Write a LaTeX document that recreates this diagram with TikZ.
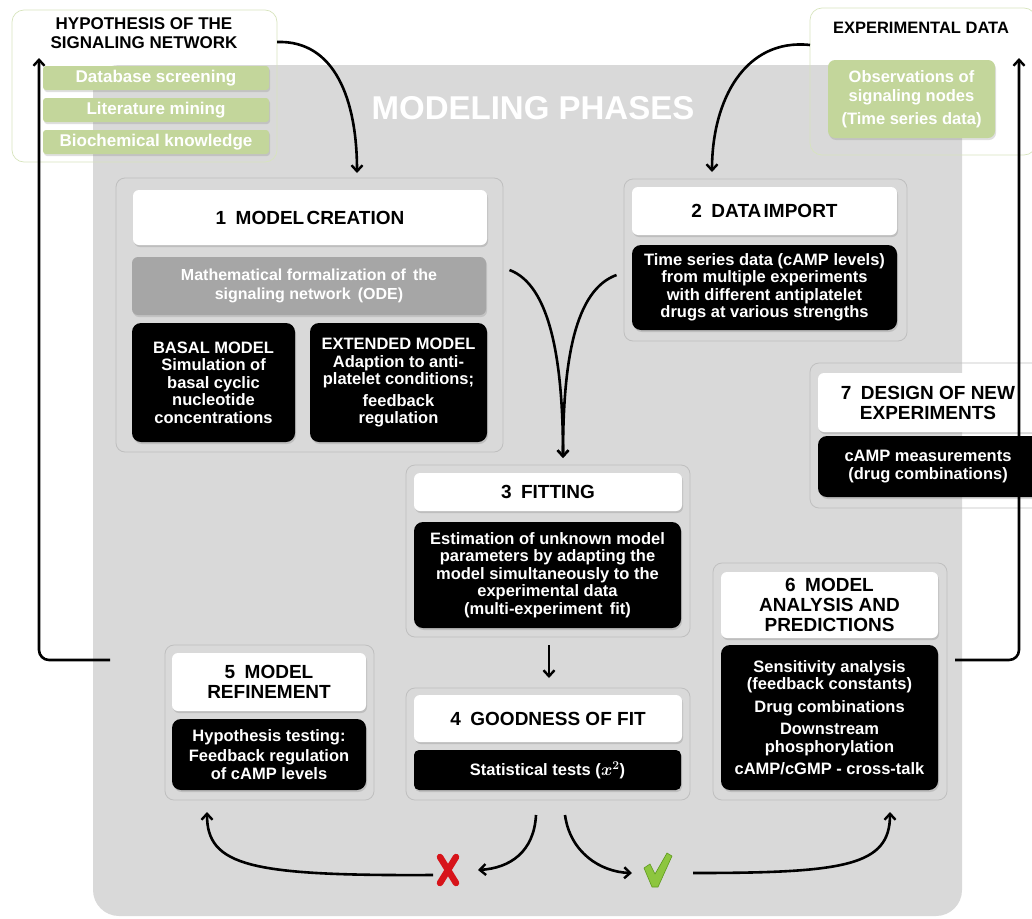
\documentclass[tikz,border=0pt]{standalone}
\usepackage{fontspec}
\usepackage{amsmath}
\setmainfont{Liberation Sans}
\usetikzlibrary{arrows.meta,shadows,calc}
\definecolor{bggray}{HTML}{D9D9D9}
\definecolor{greenbox}{HTML}{C3D69B}
\definecolor{greenline}{HTML}{D7E4BD}
\definecolor{formgray}{HTML}{A6A6A6}
\definecolor{xred}{HTML}{D7141A}
\definecolor{okgreen}{HTML}{8DC63F}
\definecolor{okdark}{HTML}{5E9A1E}
\begin{document}
\begin{tikzpicture}[x=1pt,y=1pt,
  every node/.style={inner sep=0pt,outer sep=0pt,align=center},
  panel/.style={draw=black!25,line width=0.8pt,rounded corners=9pt},
  outerbox/.style={draw=greenline,line width=0.7pt,rounded corners=12pt},
  titlebox/.style={fill=white,rounded corners=6pt,font=\fontsize{19}{20}\selectfont\bfseries,
    drop shadow={shadow xshift=1pt,shadow yshift=-2pt,opacity=.3}},
  blackbox/.style={fill=black,text=white,rounded corners=9pt,font=\fontsize{16.5}{17.5}\selectfont\bfseries,
    drop shadow={shadow xshift=1pt,shadow yshift=-2pt,opacity=.3}},
  greenitem/.style={fill=greenbox,text=white,rounded corners=3pt,font=\fontsize{17}{19}\selectfont\bfseries,
    drop shadow={shadow xshift=1pt,shadow yshift=-2pt,opacity=.25}},
  flow/.style={line width=2.6pt,-{Straight Barb[length=6pt,width=11pt,line width=2.4pt]}}
]
\useasboundingbox (0,0) rectangle (1032,-918);

% background
\node (bg) [fill=bggray,rounded corners=26pt,minimum width=869,minimum height=851] at (527.5,-490.5) {};
\node (phases) [text=white,font=\fontsize{33}{36}\selectfont\bfseries] at (533,-108) {MODELING PHASES};

% hypothesis
\node (hyp) [outerbox,minimum width=265,minimum height=152] at (144.5,-86) {};
\node (hyptitle) [font=\fontsize{17}{19}\selectfont\bfseries] at (144,-33) {HYPOTHESIS OF THE\\SIGNALING NETWORK};
\node (g1) [greenitem,minimum width=226,minimum height=24] at (156,-78) {Database screening};
\node (g2) [greenitem,minimum width=226,minimum height=24] at (156,-110) {Literature mining};
\node (g3) [greenitem,minimum width=226,minimum height=24] at (156,-142) {Biochemical knowledge};

% experimental data
\node (exp) [outerbox,minimum width=226,minimum height=147] at (923,-81.5) {};
\node (exptitle) [font=\fontsize{16.5}{19}\selectfont\bfseries] at (921,-28) {EXPERIMENTAL DATA};
\node (obs) [greenitem,rounded corners=7pt,minimum width=167,minimum height=78,font=\fontsize{16.5}{19}\selectfont\bfseries] at (911.5,-99) {Observations of\\signaling nodes\\[4pt](Time series data)};

% panel 1
\node (p1) [panel,minimum width=387,minimum height=274] at (309.5,-315) {};
\node (t1) [titlebox,minimum width=354,minimum height=55] at (310,-217.5) {1\enspace MODEL\hspace{0.12em}CREATION};
\node (form) [fill=formgray,text=white,rounded corners=6pt,minimum width=354,minimum height=58,
  font=\fontsize{16}{19}\selectfont\bfseries,drop shadow={shadow xshift=1pt,shadow yshift=-2pt,opacity=.25}]
  at (309,-286) {Mathematical formalization of\, the\\signaling network\, (ODE)};
\node (basal) [blackbox,minimum width=163,minimum height=119] at (213.5,-382.5)
  {BASAL MODEL\\Simulation of\\basal cyclic\\nucleotide\\concentrations};
\node (ext) [blackbox,minimum width=177,minimum height=119] at (398.5,-382.5)
  {EXTENDED MODEL\\Adaption to anti-\\platelet conditions;\\[4pt]feedback\\regulation};

% panel 2
\node (p2) [panel,minimum width=283,minimum height=162] at (765.5,-260) {};
\node (t2) [titlebox,minimum width=265,minimum height=48] at (764.5,-211) {2\enspace DATA\hspace{0.12em}IMPORT};
\node (b2) [blackbox,minimum width=265,minimum height=85] at (764.5,-287.5)
  {Time series data (cAMP levels)\\from multiple experiments\\with different antiplatelet\\drugs at various strengths};

% panel 7
\node (p7) [panel,minimum width=232,minimum height=145] at (926,-435.5) {};
\node (t7) [titlebox,minimum width=224,minimum height=59] at (930,-402.5) {};
\node (t7text) [font=\fontsize{19}{20}\selectfont\bfseries] at (928,-402.5) {7\enspace DESIGN OF NEW\\EXPERIMENTS};
\node (b7) [blackbox,minimum width=224,minimum height=61] at (930,-466.5) {};
\node (b7text) [text=white,font=\fontsize{16.5}{17.5}\selectfont\bfseries] at (928,-466.5) {cAMP measurements\\(drug combinations)};

% panel 3
\node (p3) [panel,minimum width=284,minimum height=172] at (548,-551) {};
\node (t3) [titlebox,minimum width=268,minimum height=38] at (548,-492) {3\enspace FITTING};
\node (b3) [blackbox,minimum width=267,minimum height=106] at (547.5,-575)
  {Estimation of unknown model\\parameters by adapting the\\model simultaneously to the\\experimental data\\(multi-experiment\, fit)};

% panel 4
\node (p4) [panel,minimum width=284,minimum height=112] at (548,-744) {};
\node (t4) [titlebox,minimum width=268,minimum height=47] at (548,-718.5) {4\enspace GOODNESS OF FIT};
\node (b4) [blackbox,rounded corners=5pt,minimum width=267,minimum height=40] at (547.5,-770)
  {Statistical tests ($\boldsymbol{x^{2}}$)};

% panel 5
\node (p5) [panel,minimum width=209,minimum height=155] at (269.5,-722.5) {};
\node (t5) [titlebox,minimum width=194,minimum height=58] at (269,-682) {5\enspace MODEL\\REFINEMENT};
\node (b5) [blackbox,minimum width=194,minimum height=71] at (269,-754.5)
  {Hypothesis testing:\\[3pt]Feedback regulation\\of cAMP levels};

% panel 6
\node (p6) [panel,minimum width=234,minimum height=237] at (830,-681.5) {};
\node (t6) [titlebox,minimum width=217,minimum height=66] at (829.5,-605) {6\enspace MODEL\\ANALYSIS AND\\PREDICTIONS};
\node (b6) [blackbox,minimum width=217,minimum height=145] at (829.5,-717.5)
  {Sensitivity analysis\\(feedback constants)\\[5pt]Drug combinations\\[5pt]Downstream\\phosphorylation\\[5pt]cAMP/cGMP - cross-talk};

% cross and check
\node (cross) [minimum width=24,minimum height=34] at (448,-870) {};
\draw[xred,line width=6.5pt,line cap=round] ([xshift=4pt,yshift=-4pt]cross.north west) -- ([xshift=-4pt,yshift=4pt]cross.south east);
\draw[xred,line width=6.5pt,line cap=round] ([xshift=-4pt,yshift=-4pt]cross.north east) -- ([xshift=4pt,yshift=4pt]cross.south west);
\node (check) [minimum width=28,minimum height=36] at (657,-870) {};
\filldraw[fill=okgreen,draw=okdark,line width=0.6pt,line join=round]
  ($(check.center)+(-13,2)$) -- ($(check.center)+(-7,6)$) -- ($(check.center)+(-2,-4)$)
  -- ($(check.center)+(10,17)$) -- ($(check.center)+(15,14)$) -- ($(check.center)+(1,-17)$)
  -- ($(check.center)+(-5,-17)$) -- cycle;

% connectors
\draw[flow] ([yshift=44pt]hyp.east) .. controls (335,-40) and (357,-100) .. ([xshift=47.5pt,yshift=5pt]p1.north);
\draw[flow] ([yshift=36.5pt]exp.west) .. controls (745,-38) and (712,-100) .. ([xshift=-53.5pt,yshift=7pt]p2.north);
\draw[flow] ([xshift=6.5pt,yshift=45pt]p1.east) .. controls (550,-285) and (563,-360) .. ([xshift=15pt,yshift=7pt]p3.north);
\draw[flow] ([xshift=-7.5pt,yshift=-15pt]p2.west) .. controls (575,-290) and (563,-360) .. ([xshift=15pt,yshift=7pt]p3.north);
\draw[flow] ([xshift=1pt,yshift=-8pt]p3.south) -- ([xshift=1pt,yshift=10pt]p4.north);
\draw[flow] ([xshift=-12pt,yshift=-15pt]p4.south) .. controls (534,-852) and (510,-868) .. ([xshift=18pt]cross.east);
\draw[flow] ([xshift=17pt,yshift=-15pt]p4.south) .. controls (570,-852) and (600,-872) .. ([xshift=-11pt,yshift=-3pt]check.west);
\draw[flow] ([xshift=-3pt,yshift=-5pt]cross.west) .. controls (250,-876) and (207,-866) .. ([xshift=-62.5pt,yshift=-12pt]p5.south);
\draw[flow] ([xshift=22pt,yshift=-3pt]check.east) .. controls (845,-873) and (890,-866) .. ([xshift=60pt,yshift=-12pt]p6.south);
\coordinate (c5) at (110,-660);
\coordinate (c6) at (955,-660);
\draw[flow,rounded corners=10pt] (c5) -- (39,-660) -- ([xshift=-105.5pt,yshift=-48pt]hyp.north);
\draw[flow,rounded corners=10pt] (c6) -- (1019,-660) -- ([xshift=96pt,yshift=-50pt]exp.north);
\end{tikzpicture}
\end{document}
